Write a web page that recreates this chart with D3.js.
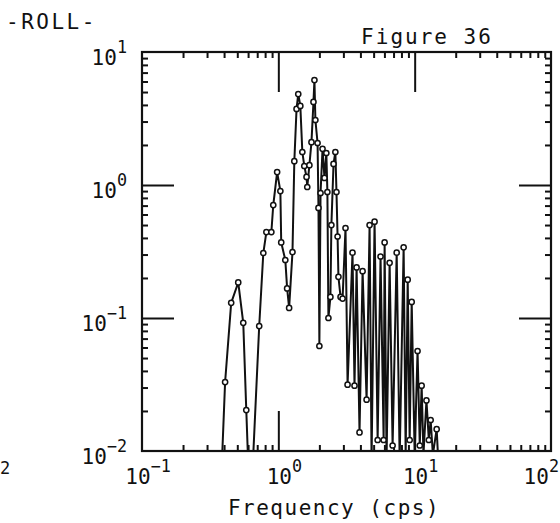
<!DOCTYPE html>
<html>
<head>
<meta charset="utf-8">
<script src="https://cdn.jsdelivr.net/npm/d3@7"></script>
<style>
  body { margin: 0; background: #fff; }
  text { font-family: "DejaVu Sans Mono", "Liberation Mono", monospace; fill: #111; }
</style>
</head>
<body>
<svg id="fig" width="560" height="523"></svg>
<script>
// spectrum: frequency (cps) and spectral density
const freq = [0.375, 0.407, 0.451, 0.508, 0.553, 0.582, 0.622, 0.724, 0.776, 0.817,
  0.889, 0.918, 0.98, 1.035, 1.05, 1.125, 1.16, 1.20, 1.27, 1.31,
  1.36, 1.40, 1.45, 1.50, 1.55, 1.61, 1.63, 1.69, 1.75, 1.81,
  1.84, 1.87, 1.94, 1.97, 2.0, 2.04, 2.11, 2.18, 2.25, 2.29,
  2.33, 2.41, 2.45, 2.54, 2.62, 2.67, 2.72, 2.76, 2.86, 2.96,
  3.11, 3.22, 3.50, 3.62, 3.75, 3.94, 4.15, 4.44, 4.67, 4.83,
  5.08, 5.35, 5.62, 5.92, 6.02, 6.22, 6.55, 6.89, 7.38, 7.76,
  8.30, 8.59, 8.89, 9.19, 9.51, 10.0, 10.5, 10.9, 11.25, 11.6,
  12.2, 12.7, 13.1, 13.6, 14.5, 15.0]
const psd = [0.004, 0.033, 0.130, 0.185, 0.092, 0.0203, 0.003, 0.087, 0.308, 0.443,
  0.443, 0.707, 1.25, 0.90, 0.37, 0.273, 0.167, 0.119, 0.313, 1.51,
  3.73, 4.83, 3.93, 1.77, 1.39, 1.15, 0.966, 1.41, 2.10, 4.21,
  6.15, 3.08, 2.07, 0.672, 0.0616, 0.871, 1.87, 1.13, 1.74, 0.886,
  0.10, 0.144, 0.50, 1.44, 1.77, 0.886, 0.41, 0.204, 0.144, 0.14,
  0.475, 0.0315, 0.31, 0.031, 0.24, 0.0138, 0.225, 0.0243, 0.50, 0.0086,
  0.53, 0.0121, 0.29, 0.0121, 0.37, 0.0086, 0.26, 0.011, 0.31, 0.0086,
  0.34, 0.0094, 0.194, 0.0121, 0.132, 0.0094, 0.0565, 0.011, 0.031, 0.0094,
  0.024, 0.0121, 0.0171, 0.0094, 0.0146, 0.0073]

const xDecades = [-1, 0, 1, 2]
const yDecades = [1, 0, -1, -2]
const xMajorInner = [1, 10]     // long ticks on top/bottom
const yMajorInner = [1, 0.1]    // long ticks on left/right
const figTitle = "Figure 36"
const figTag = "-ROLL-"
const xTitle = "Frequency (cps)"

const svg = d3.select("#fig")
const box = { left: 142, top: 52, right: 551, bottom: 451 }

const x = d3.scaleLog().domain([0.1, 100]).range([box.left, box.right])
const y = d3.scaleLog().domain([0.01, 10]).range([box.bottom, box.top])

const isDecade = v => Math.abs(Math.log10(v) - Math.round(Math.log10(v))) < 1e-9
const xMinor = x.ticks().filter(v => !isDecade(v))
const yMinor = y.ticks().filter(v => !isDecade(v))

// axes drawn inward on all four sides
const addAxis = (axis, tx, ty) => {
  const g = svg.append("g").attr("transform", `translate(${tx},${ty})`).call(axis)
  g.selectAll("text").remove()
  g.select(".domain").remove()
  g.selectAll("line").attr("stroke", "#111").attr("stroke-width", 2)
  return g
}

addAxis(d3.axisBottom(x).tickValues(xMinor).tickSize(-6), 0, box.bottom)
addAxis(d3.axisTop(x).tickValues(xMinor).tickSize(-6), 0, box.top)
addAxis(d3.axisLeft(y).tickValues(yMinor).tickSize(-6), box.left, 0)
addAxis(d3.axisRight(y).tickValues(yMinor).tickSize(-6), box.right, 0)

addAxis(d3.axisBottom(x).tickValues(xMajorInner).tickSize(-40), 0, box.bottom)
addAxis(d3.axisTop(x).tickValues(xMajorInner).tickSize(-40), 0, box.top)
addAxis(d3.axisLeft(y).tickValues(yMajorInner).tickSize(-32), box.left, 0)
addAxis(d3.axisRight(y).tickValues(yMajorInner).tickSize(-32), box.right, 0)

svg.append("rect")
  .attr("x", box.left).attr("y", box.top)
  .attr("width", box.right - box.left).attr("height", box.bottom - box.top)
  .attr("fill", "none").attr("stroke", "#111").attr("stroke-width", 2.2)

// data
svg.append("clipPath").attr("id", "plotclip")
  .append("rect")
  .attr("x", box.left).attr("y", box.top)
  .attr("width", box.right - box.left).attr("height", box.bottom - box.top)

const pts = freq.map((f, i) => [f, psd[i]])
const plot = svg.append("g").attr("clip-path", "url(#plotclip)")

plot.append("path")
  .datum(pts)
  .attr("d", d3.line().x(d => x(d[0])).y(d => y(d[1])))
  .attr("fill", "none")
  .attr("stroke", "#111")
  .attr("stroke-width", 2)
  .attr("stroke-linejoin", "round")

plot.selectAll("circle")
  .data(pts.filter(d => d[1] >= 0.01))
  .enter()
  .append("circle")
  .attr("cx", d => x(d[0]))
  .attr("cy", d => y(d[1]))
  .attr("r", 2.6)
  .attr("fill", "#fff")
  .attr("stroke", "#111")
  .attr("stroke-width", 1.5)

// power-of-ten labels
const powLabel = (g, exp, size) => {
  g.append("tspan").text("10")
  g.append("tspan").attr("dy", -size * 0.55).attr("font-size", size * 0.8).text(String(exp).replace("-", "\u2212"))
}

xDecades.forEach(e => {
  const last = e === xDecades[xDecades.length - 1]
  const t = svg.append("text")
    .attr("x", last ? 559 : x(Math.pow(10, e)) + 6)
    .attr("y", 484)
    .attr("font-size", 21)
    .attr("text-anchor", last ? "end" : "middle")
  powLabel(t, e, 21)
})

yDecades.forEach(e => {
  const t = svg.append("text")
    .attr("x", 127)
    .attr("y", y(Math.pow(10, e)) + 13)
    .attr("font-size", 21)
    .attr("text-anchor", "end")
  powLabel(t, e, 21)
})

svg.append("text")
  .attr("x", 427).attr("y", 44)
  .attr("font-size", 21).attr("letter-spacing", 2)
  .attr("text-anchor", "middle")
  .text(figTitle)

svg.append("text")
  .attr("x", 6).attr("y", 29)
  .attr("font-size", 21).attr("letter-spacing", 2.5)
  .text(figTag)

svg.append("text")
  .attr("x", 334).attr("y", 515)
  .attr("font-size", 21).attr("letter-spacing", 1.5)
  .attr("text-anchor", "middle")
  .text(xTitle)

// edge of the neighbouring figure's label
svg.append("text")
  .attr("x", 0).attr("y", 474)
  .attr("font-size", 17)
  .text("2")
</script>
</body>
</html>
